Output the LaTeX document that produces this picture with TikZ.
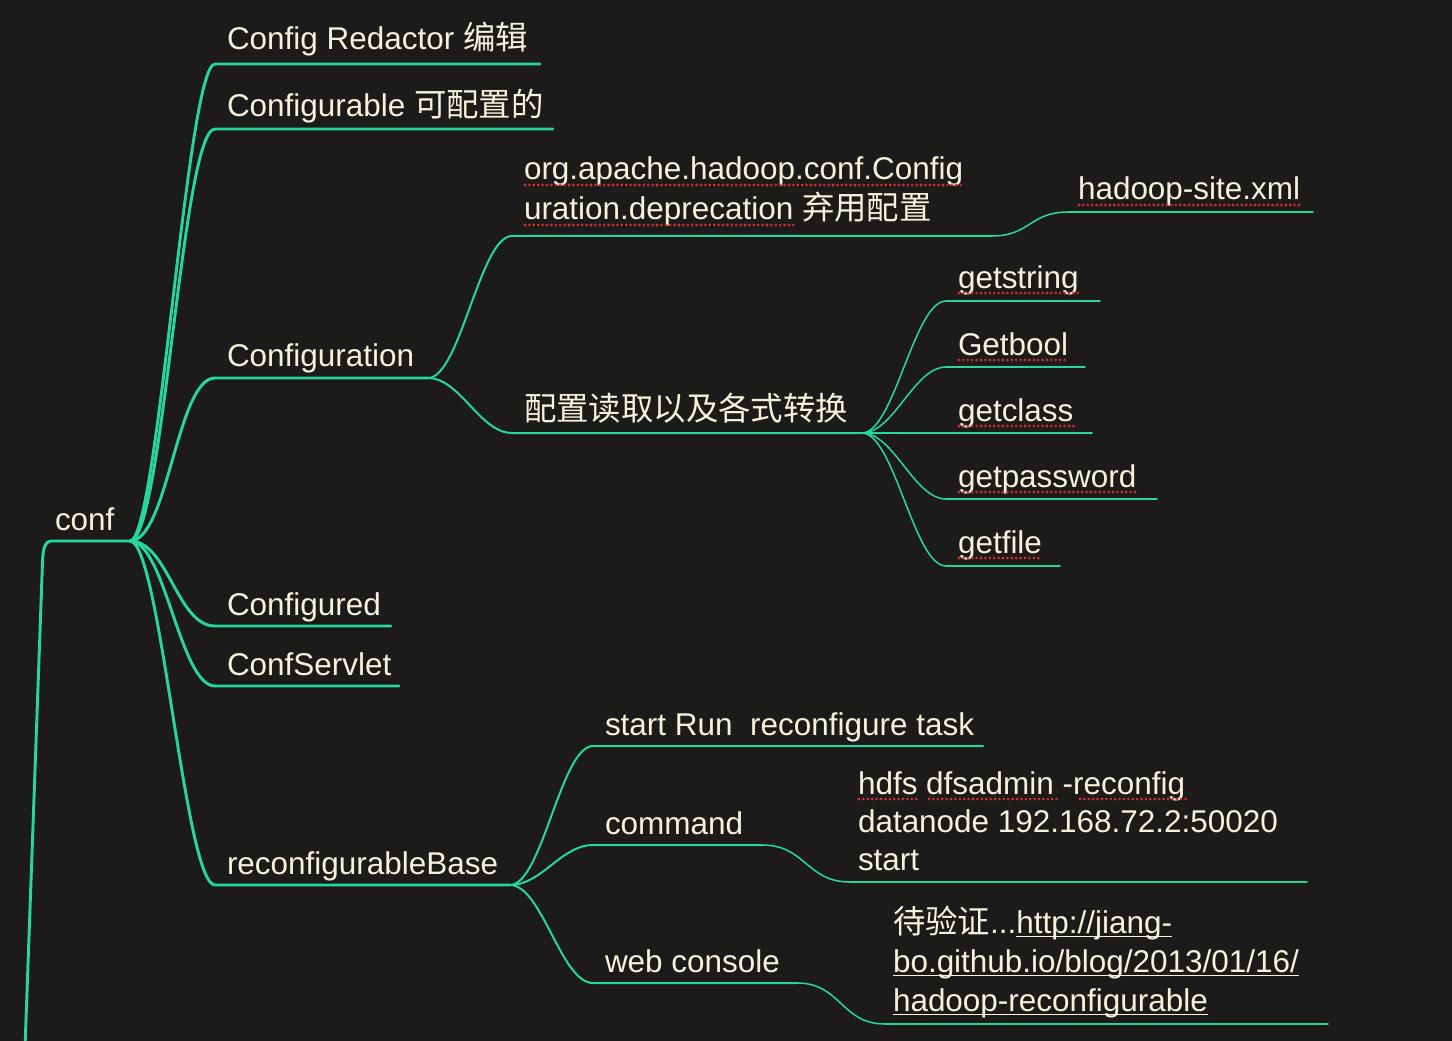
\documentclass[tikz,border=0pt]{standalone}
\usepackage{fontspec}
\setmainfont{Liberation Sans}
\newfontfamily\cjk[Scale=1.03]{Noto Sans CJK SC}
\usetikzlibrary{calc}
\definecolor{bgc}{RGB}{28,27,25}
\definecolor{grn}{RGB}{38,214,158}
\definecolor{txtc}{RGB}{245,241,218}
\definecolor{sqred}{RGB}{205,45,45}
\tikzset{
  txt/.style={anchor=base west, inner sep=0pt, outer sep=0pt, text=txtc,
    font=\fontsize{23.6pt}{29pt}\selectfont},
  lone/.style={draw=grn, line width=2.2pt, line cap=round, line join=round},
  ltwo/.style={draw=grn, line width=1.5pt, line cap=round, line join=round},
  lthree/.style={draw=grn, line width=1.15pt, line cap=round, line join=round},
  branch/.style={to path={.. controls ($(\tikztostart)+(#1,0)$) and ($(\tikztotarget)-(#1,0)$) .. (\tikztotarget)}},
  sq/.style={draw=sqred, line width=2.3pt, dash pattern=on 0pt off 3.3pt, line cap=round},
  lnk/.style={draw=txtc, line width=1.1pt}
}
\begin{document}
\begin{tikzpicture}[x=0.75pt,y=-0.75pt]
\fill[bgc] (0,0) rectangle (1452,1041);
\useasboundingbox (0,0) rectangle (1452,1041);

% ---------- text nodes ----------
\node[txt] (conf) at (55,530) {conf};
\node[txt] (cr)  at (227,50)  {Config Redactor {\cjk 编辑}};
\node[txt] (cfg) at (227,117) {Configurable {\cjk 可配置的}};
\node[txt] (cfn) at (227,366) {Configuration};
\node[txt] (cfd) at (227,615) {Configured};
\node[txt] (csv) at (227,675) {ConfServlet};
\node[txt] (rcb) at (227,874) {reconfigurableBase};

\node[txt] (orga) at (524,180) {org.apache.hadoop.conf.Config};
\node[txt] (orgb) at (524,220) {uration.deprecation {\cjk 弃用配置}};
\node[txt] (hs)   at (1078,200) {hadoop-site.xml};
\node[txt] (pz)   at (524,420) {\cjk 配置读取以及各式转换};

\node[txt] (gs) at (958,288) {getstring};
\node[txt] (gb) at (958,355) {Getbool};
\node[txt] (gc) at (958,421) {getclass};
\node[txt] (gp) at (958,487) {getpassword};
\node[txt] (gf) at (958,553) {getfile};

\node[txt] (st)  at (605,735) {start Run~ reconfigure task};
\node[txt] (cmd) at (605,834) {command};
\node[txt] (web) at (605,972) {web console};

\node[txt] (hda) at (858,794) {hdfs dfsadmin -reconfig};
\node[txt] (hdb) at (858,832) {datanode 192.168.72.2:50020};
\node[txt] (hdc) at (858,870) {start};

\node[txt] (wva) at (893,933) {{\cjk 待验证}...};
\node[txt] (wvb) at (wva.base east) {http://jiang-};
\node[txt] (wvc) at (893,972) {bo.github.io/blog/2013/01/16/};
\node[txt] (wvd) at (893,1011) {hadoop-reconfigurable};

% ---------- coordinates of underline ends ----------
\coordinate (confW) at (52,541);   \coordinate (confE) at (130,541);
\coordinate (rootB) at (25,1048);
\coordinate (crS) at (215,64);   \coordinate (crE) at (540,64);
\coordinate (cfgS) at (215,129); \coordinate (cfgE) at (553,129);
\coordinate (cfnS) at (215,378); \coordinate (cfnE) at (428,378);
\coordinate (cfdS) at (215,626); \coordinate (cfdE) at (391,626);
\coordinate (csvS) at (215,686); \coordinate (csvE) at (399,686);
\coordinate (rcbS) at (215,885); \coordinate (rcbE) at (510,885);

\coordinate (orgS) at (512,236); \coordinate (orgE) at (992,236);
\coordinate (hsS) at (1068,212); \coordinate (hsE) at (1313,212);
\coordinate (pzS) at (512,433);  \coordinate (pzE) at (862,433);

\coordinate (gsS) at (946,301); \coordinate (gsE) at (1100,301);
\coordinate (gbS) at (946,367); \coordinate (gbE) at (1085,367);
\coordinate (gcS) at (946,433); \coordinate (gcE) at (1092,433);
\coordinate (gpS) at (946,499); \coordinate (gpE) at (1157,499);
\coordinate (gfS) at (946,566); \coordinate (gfE) at (1060,566);

\coordinate (stS) at (593,746);  \coordinate (stE) at (983,746);
\coordinate (cmdS) at (593,845); \coordinate (cmdE) at (762,845);
\coordinate (webS) at (593,983); \coordinate (webE) at (797,983);
\coordinate (hdS) at (850,882);  \coordinate (hdE) at (1307,882);
\coordinate (wvS) at (885,1024); \coordinate (wvE) at (1328,1024);

% ---------- connectors ----------
\draw[lone] (confE) -- (confW) .. controls (45,541) and (43,548) .. (42.5,562) -- (rootB);
\foreach \c/\k in {cr/28,cfg/33,cfn/38,cfd/38,csv/35,rcb/30}
  \draw[lone] (confE) to[branch=\k] (\c S) -- (\c E);

\draw[ltwo] (cfnE) to[branch=32] (orgS) -- (orgE);
\draw[ltwo] (cfnE) to[branch=32] (pzS) -- (pzE);
\draw[lthree] (orgE) to[branch=38] (hsS) -- (hsE);
\foreach \c in {gs,gb,gc,gp,gf}
  \draw[lthree] (pzE) to[branch=32] (\c S) -- (\c E);

\foreach \c in {st,cmd,web}
  \draw[ltwo] (rcbE) to[branch=32] (\c S) -- (\c E);
\draw[lthree] (cmdE) to[branch=44] (hdS) -- (hdE);
\draw[lthree] (webE) to[branch=44] (wvS) -- (wvE);

% ---------- spell-check dotted underlines ----------
\draw[sq] ($(orga.base west)+(1,5)$) -- ($(orga.base east)+(0,5)$);
\draw[sq] ($(orgb.base west)+(1,5)$) -- (796,225);
\draw[sq] ($(hs.base west)+(1,5)$) -- ($(hs.base east)+(0,5)$);
\foreach \c in {gs,gb,gc,gp,gf}
  \draw[sq] ($(\c.base west)+(1,5)$) -- ($(\c.base east)+(0,5)$);
\draw[sq] (859,799) -- (919,799);
\draw[sq] (929,799) -- (1057,799);
\draw[sq] (1080,799) -- (1186,799);

% ---------- link underlines ----------
\draw[lnk] ($(wvb.base west)+(0,3.5)$) -- ($(wvb.base east)+(0,3.5)$);
\draw[lnk] ($(wvc.base west)+(0,3.5)$) -- ($(wvc.base east)+(0,3.5)$);
\draw[lnk] ($(wvd.base west)+(0,3.5)$) -- ($(wvd.base east)+(0,3.5)$);
\end{tikzpicture}
\end{document}
